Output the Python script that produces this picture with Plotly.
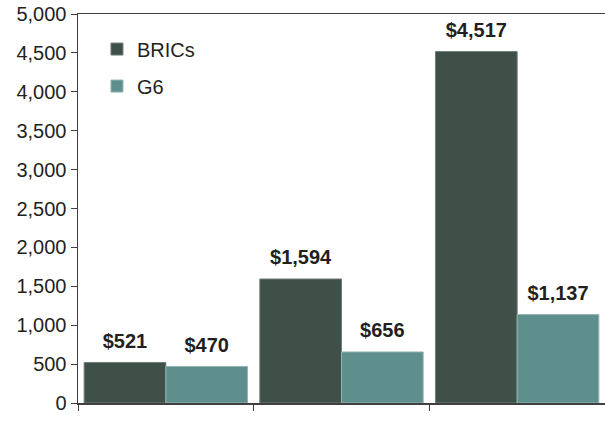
import plotly.graph_objects as go

categories = ["Group 1", "Group 2", "Group 3"]
bric_values = [521, 1594, 4517]
g6_values = [470, 656, 1137]
series_names = ["BRICs", "G6"]
y_tick_values = [0, 500, 1000, 1500, 2000, 2500, 3000, 3500, 4000, 4500, 5000]

DARK = "#3f5049"
TEAL = "#5f8f8c"
TEXT = "#231f20"
FONT = "Liberation Sans, Arial, sans-serif"


def money(v):
    return "${:,}".format(v)


fig = go.Figure()
for name, vals, color, edge, grp in [
    (series_names[0], bric_values, DARK, "#6f7d77", "a"),
    (series_names[1], g6_values, TEAL, "#93b5b2", "b"),
]:
    fig.add_trace(go.Bar(
        x=categories, y=vals, name=name, offsetgroup=grp, legendgroup=grp,
        marker=dict(color=color, line=dict(color=edge, width=1)),
        hoverinfo="skip",
    ))
    fig.add_trace(go.Scatter(
        x=categories, y=vals, mode="markers+text", offsetgroup=grp,
        text=[money(v) for v in vals], textposition="top center",
        textfont=dict(family=FONT, size=20, color=TEXT, weight="bold"),
        marker=dict(size=14, opacity=0), showlegend=False, hoverinfo="skip",
        cliponaxis=False,
    ))

fig.update_layout(
    width=605, height=423,
    margin=dict(l=78, r=0, t=14, b=20, autoexpand=False),
    paper_bgcolor="white", plot_bgcolor="white",
    barmode="group", bargap=0.07, bargroupgap=0,
    scattermode="group", scattergap=0.07,
    font=dict(family=FONT, size=20, color=TEXT),
    showlegend=True,
    legend=dict(
        x=0.036, y=0.96, xanchor="left", yanchor="top",
        bgcolor="rgba(0,0,0,0)", tracegroupgap=8,
        font=dict(family=FONT, size=20, color=TEXT),
        traceorder="grouped",
    ),
    xaxis=dict(
        categoryorder="array", categoryarray=categories,
        range=[-0.5, 2.5], automargin=False,
        showticklabels=False, ticks="outside", tickson="boundaries",
        ticklen=6, tickcolor="#404040", tickwidth=1,
        showline=True, linecolor="#404040", linewidth=1.5, mirror=True,
        showgrid=False, zeroline=False, fixedrange=True,
    ),
    yaxis=dict(
        range=[0, 5000], tickvals=y_tick_values, tickformat=",",
        automargin=False, mirror=False,
        ticks="outside", ticklen=6, tickcolor="#404040", tickwidth=1,
        showline=True, linecolor="#404040", linewidth=1.5,
        showgrid=False, zeroline=False, fixedrange=True,
        tickfont=dict(family=FONT, size=20, color=TEXT),
    ),
)

fig.write_html(
    "out.html",
    config={"displayModeBar": False, "staticPlot": True},
    post_script="document.body.style.margin='0';document.body.style.overflow='hidden';",
)
